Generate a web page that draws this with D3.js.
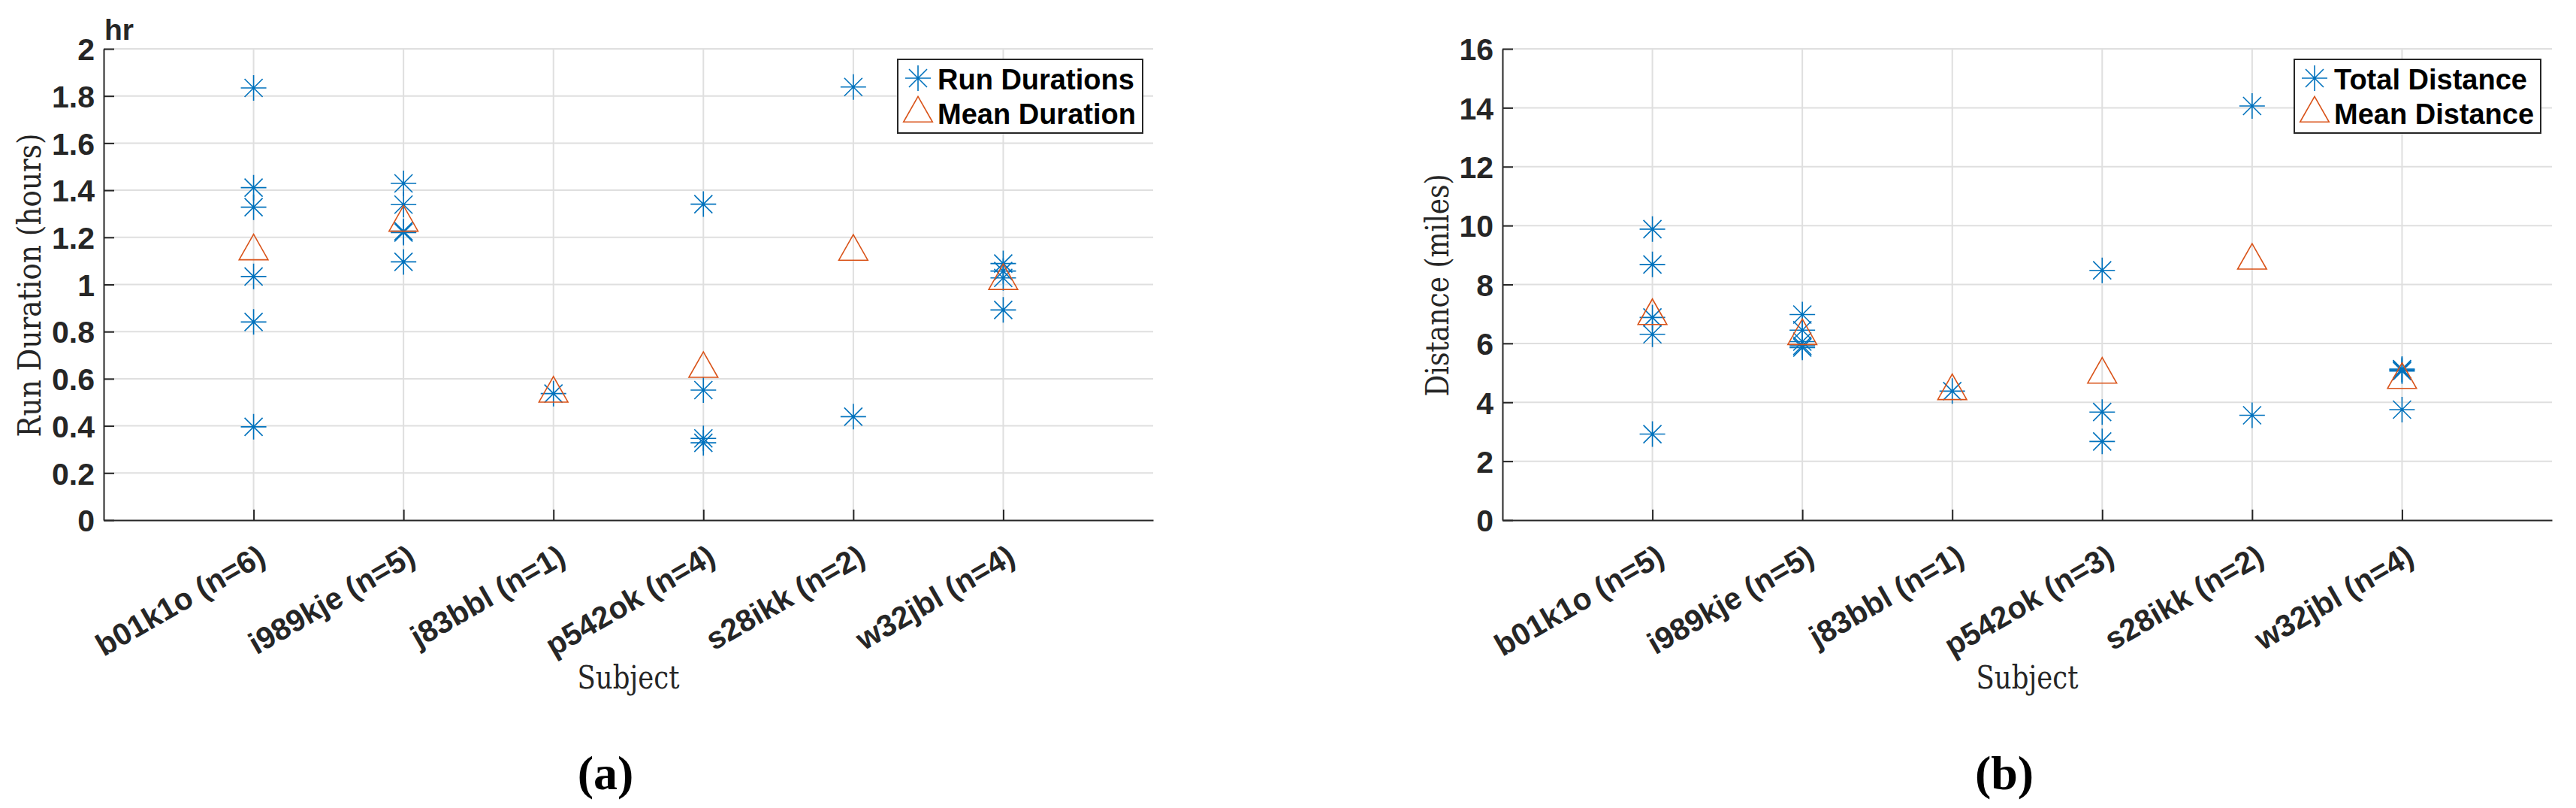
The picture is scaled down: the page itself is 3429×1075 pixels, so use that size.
<!DOCTYPE html>
<html>
<head>
<meta charset="utf-8">
<script src="https://cdn.jsdelivr.net/npm/d3@7"></script>
<style>
  html, body { margin: 0; padding: 0; background: #ffffff; }
  svg { display: block; }
</style>
</head>
<body>
<svg id="chart" width="3429" height="1075"></svg>
<script>
// ---------------- data ----------------
const categoriesA = ["b01k1o (n=6)", "i989kje (n=5)", "j83bbl (n=1)", "p542ok (n=4)", "s28ikk (n=2)", "w32jbl (n=4)"];
const runDurations = [
  [1.834, 1.411, 1.328, 1.034, 0.841, 0.396],
  [1.429, 1.339, 1.226, 1.220, 1.096],
  [0.537],
  [1.341, 0.552, 0.347, 0.328],
  [1.838, 0.439],
  [1.089, 1.057, 1.028, 0.892]
];
const meanDuration = [1.141, 1.262, 0.537, 0.642, 1.139, 1.015];
const ticksA = [0, 0.2, 0.4, 0.6, 0.8, 1, 1.2, 1.4, 1.6, 1.8, 2];

const categoriesB = ["b01k1o (n=5)", "i989kje (n=5)", "j83bbl (n=1)", "p542ok (n=3)", "s28ikk (n=2)", "w32jbl (n=4)"];
const totalDistance = [
  [9.88, 8.68, 6.88, 6.31, 2.92],
  [6.98, 6.45, 6.06, 5.92, 5.86],
  [4.38],
  [8.48, 3.67, 2.67],
  [14.06, 3.56],
  [5.13, 5.10, 5.06, 3.75]
];
const meanDistance = [6.93, 6.25, 4.38, 4.94, 8.81, 4.76];
const ticksB = [0, 2, 4, 6, 8, 10, 12, 14, 16];

// ---------------- styles ----------------
const BLUE = "#0072BD", ORANGE = "#D95319", AXIS = "#262626", GRID = "#DFDFDF";
const SANS = "'Liberation Sans', Arial, Helvetica, sans-serif";
const SERIF = "'DejaVu Serif', 'Liberation Serif', serif";
const CAPSERIF = "'Liberation Serif', 'Times New Roman', serif";

const svg = d3.select("#chart");

function panel(opts) {
  const { x0, x1, yTop, yBot, cats, values, means, ticks, yMax, ylabel, ylabelLen, ylabelX,
          legend, caption, captionX, unit } = opts;
  const g = svg.append("g");
  const x = d3.scalePoint().domain(cats).range([x0, x1]).padding(1);
  const y = d3.scaleLinear().domain([0, yMax]).range([yBot, yTop]);

  // grid
  g.append("g").selectAll("line.hg").data(ticks.filter(t => t > 0)).join("line")
    .attr("x1", x0).attr("x2", x1).attr("y1", d => y(d)).attr("y2", d => y(d))
    .attr("stroke", GRID).attr("stroke-width", 2);
  g.append("g").selectAll("line.vg").data(cats).join("line")
    .attr("x1", d => x(d)).attr("x2", d => x(d)).attr("y1", yTop).attr("y2", yBot)
    .attr("stroke", GRID).attr("stroke-width", 2);

  // y axis
  const ya = g.append("g").attr("transform", `translate(${x0},0)`)
    .call(d3.axisLeft(y).tickValues(ticks).tickSizeInner(-14).tickSizeOuter(0).tickPadding(12)
      .tickFormat(d => d3.format("~g")(d)));
  ya.select(".domain").attr("stroke", AXIS).attr("stroke-width", 2);
  ya.selectAll(".tick line").attr("stroke", AXIS).attr("stroke-width", 2);
  ya.selectAll(".tick text").attr("font-family", SANS).attr("font-weight", "bold")
    .attr("font-size", 41).attr("fill", AXIS).attr("dy", "0.36em");

  // x axis
  const xa = g.append("g").attr("transform", `translate(0,${yBot})`)
    .call(d3.axisBottom(x).tickSizeInner(-14).tickSizeOuter(0));
  xa.select(".domain").attr("stroke", AXIS).attr("stroke-width", 2);
  xa.selectAll(".tick line").attr("stroke", AXIS).attr("stroke-width", 2);
  xa.selectAll(".tick text").attr("font-family", SANS).attr("font-weight", "bold")
    .attr("font-size", 41).attr("fill", AXIS)
    .attr("text-anchor", "end").attr("dy", null).attr("y", null)
    .attr("dominant-baseline", "central")
    .attr("transform", "translate(11,44) rotate(-30)");

  // stars
  const R = 17, D = 12;
  const starPath = `M0,${-R}V${R}M${-R},0H${R}M${-D},${-D}L${D},${D}M${-D},${D}L${D},${-D}`;
  const pts = [];
  cats.forEach((c, i) => values[i].forEach(v => pts.push({ c, v })));
  g.append("g").selectAll("path").data(pts).join("path")
    .attr("d", starPath)
    .attr("transform", d => `translate(${x(d.c)},${y(d.v)})`)
    .attr("fill", "none").attr("stroke", BLUE).attr("stroke-width", 1.6);

  // triangles (centroid at data point)
  const triPath = "M0,-22.7L19.3,11.3L-19.3,11.3Z";
  g.append("g").selectAll("path").data(cats).join("path")
    .attr("d", triPath)
    .attr("transform", (d, i) => `translate(${x(d)},${y(means[i])})`)
    .attr("fill", "none").attr("stroke", ORANGE).attr("stroke-width", 1.6);

  // y label
  g.append("text")
    .attr("transform", `translate(${ylabelX},${(yTop + yBot) / 2 + 1}) rotate(-90)`)
    .attr("text-anchor", "middle").attr("dominant-baseline", "central")
    .attr("font-family", SERIF).attr("font-size", 42).attr("fill", AXIS)
    .attr("textLength", ylabelLen).attr("lengthAdjust", "spacingAndGlyphs")
    .text(ylabel);

  // x label
  g.append("text")
    .attr("x", (x0 + x1) / 2).attr("y", 916)
    .attr("text-anchor", "middle")
    .attr("font-family", SERIF).attr("font-size", 42).attr("fill", AXIS)
    .attr("textLength", 136).attr("lengthAdjust", "spacingAndGlyphs")
    .text("Subject");

  // unit label
  if (unit) {
    g.append("text").attr("x", x0 + 1).attr("y", 53)
      .attr("font-family", SANS).attr("font-weight", "bold").attr("font-size", 39)
      .attr("fill", AXIS).text(unit);
  }

  // legend
  const lg = g.append("g");
  lg.append("rect").attr("x", legend.x).attr("y", 79).attr("width", legend.w).attr("height", 98)
    .attr("fill", "#ffffff").attr("stroke", AXIS).attr("stroke-width", 2);
  lg.append("path").attr("d", starPath)
    .attr("transform", `translate(${legend.x + 27},104)`)
    .attr("fill", "none").attr("stroke", BLUE).attr("stroke-width", 1.6);
  lg.append("path").attr("d", triPath)
    .attr("transform", `translate(${legend.x + 27},151)`)
    .attr("fill", "none").attr("stroke", ORANGE).attr("stroke-width", 1.6);
  legend.labels.forEach((t, i) => {
    lg.append("text").attr("x", legend.x + 53).attr("y", 106 + i * 46)
      .attr("dominant-baseline", "central")
      .attr("font-family", SANS).attr("font-weight", "bold").attr("font-size", 38)
      .attr("fill", "#000000").text(t);
  });

  // caption
  g.append("text").attr("x", captionX).attr("y", 1050)
    .attr("text-anchor", "middle")
    .attr("font-family", CAPSERIF).attr("font-weight", "bold").attr("font-size", 64)
    .attr("fill", "#000000").text(caption);
}

panel({
  x0: 138, x1: 1535, yTop: 65, yBot: 692,
  cats: categoriesA, values: runDurations, means: meanDuration, ticks: ticksA, yMax: 2,
  ylabel: "Run Duration (hours)", ylabelLen: 404, ylabelX: 39,
  legend: { x: 1195, w: 326, labels: ["Run Durations", "Mean Duration"] },
  caption: "(a)", captionX: 806, unit: "hr"
});

panel({
  x0: 2000, x1: 3397, yTop: 65, yBot: 692,
  cats: categoriesB, values: totalDistance, means: meanDistance, ticks: ticksB, yMax: 16,
  ylabel: "Distance (miles)", ylabelLen: 296, ylabelX: 1913,
  legend: { x: 3054, w: 328, labels: ["Total Distance", "Mean Distance"] },
  caption: "(b)", captionX: 2668, unit: null
});
</script>
</body>
</html>
